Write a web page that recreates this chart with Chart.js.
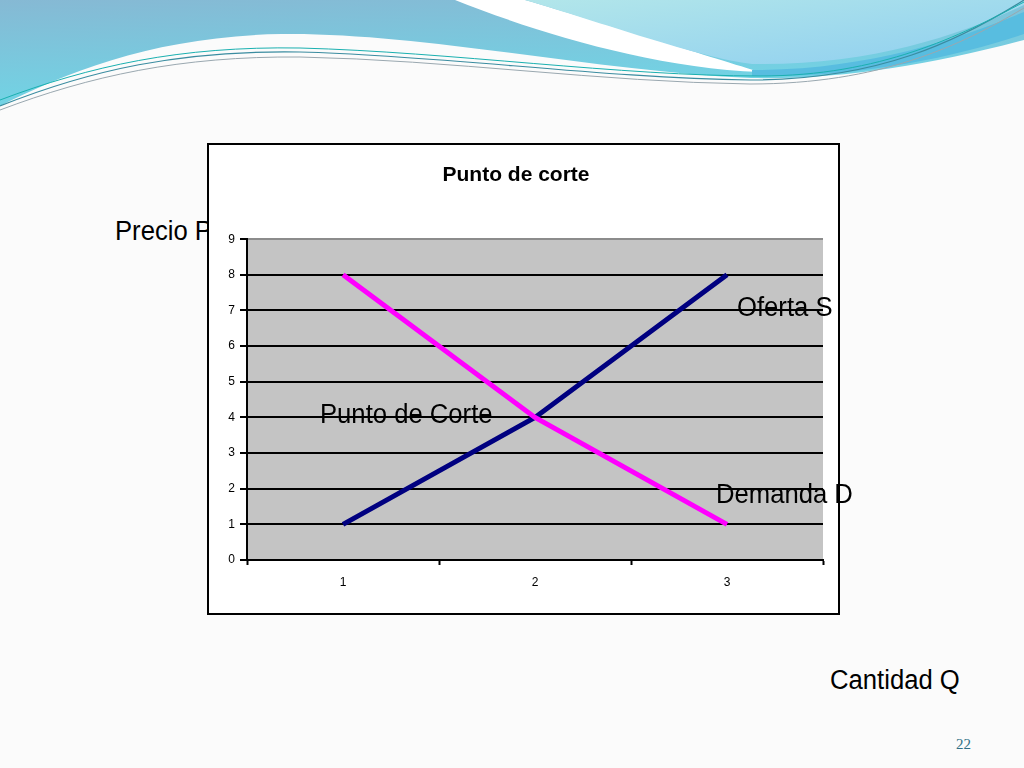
<!DOCTYPE html>
<html>
<head>
<meta charset="utf-8">
<script src="https://cdn.jsdelivr.net/npm/chart.js@4.4.0/dist/chart.umd.min.js"></script>
<style>
  html, body { margin: 0; padding: 0; }
  body {
    width: 1024px; height: 768px; overflow: hidden; position: relative;
    background: #fbfbfb;
    font-family: "Liberation Sans", Arial, sans-serif;
  }
  #waves { position: absolute; left: 0; top: 0; }
  #chartBox {
    position: absolute; left: 207px; top: 143px; width: 633px; height: 472px;
    box-sizing: border-box; border: 2px solid #000; background: #fff; z-index: 2;
  }
  #chartBox canvas { display: block; }
  .note {
    position: absolute; font-size: 27px; line-height: 27px; color: #000;
    white-space: nowrap; transform: scaleX(0.95); transform-origin: left center;
  }
  #precio { z-index: 1; }
  .over { z-index: 3; }
  #pageNum {
    position: absolute; left: 956px; top: 736px; font-family: "Liberation Serif", "DejaVu Serif", serif;
    font-size: 15px; color: #2f6f86;
  }
</style>
</head>
<body>
<svg id="waves" width="1024" height="130" viewBox="0 0 1024 130">
  <defs>
    <linearGradient id="gBlue" x1="0" y1="0" x2="0.3" y2="1">
      <stop offset="0" stop-color="#86b9d4"/>
      <stop offset="1" stop-color="#6fd6e6"/>
    </linearGradient>
    <linearGradient id="gCyan" x1="0" y1="0" x2="1" y2="1">
      <stop offset="0" stop-color="#b2e6ea"/>
      <stop offset="1" stop-color="#8fcff0"/>
    </linearGradient>
  </defs>
  <path d="M0,0 H1024 V40 C 930,65 840,80 751,78 C 600,72 420,32 281,34 C 160,36 70,70 0,106 Z" fill="url(#gBlue)"/>
  <path d="M455,0 C 530,30 650,68 760,72 C 720,60 600,22 525,0 Z" fill="#ffffff"/>
  <path d="M525,0 C 600,22 700,58 752,64 C 870,66 960,35 1024,5 V0 Z" fill="url(#gCyan)"/>
  <path d="M752,70 C 870,70 960,38 1024,12 V34 C 960,56 860,78 752,76 Z" fill="#58bde0"/>
  <path d="M0,106 C 90,70 180,50 300,52 C 450,56 600,78 750,80 C 880,80 960,40 1024,0" fill="none" stroke="#3a8ca0" stroke-width="1.2"/>
  <path d="M0,110 C 90,76 180,56 300,57 C 450,60 600,82 750,84 C 880,84 960,46 1024,8" fill="none" stroke="#9aa8b0" stroke-width="1"/>
  <path d="M0,100 C 90,66 180,46 300,48 C 450,52 620,76 760,76 C 880,76 960,36 1024,2" fill="none" stroke="#1ab0b0" stroke-width="1"/>
</svg>

<div id="precio" class="note" style="left:115px; top:218px;">Precio P</div>

<div id="chartBox"><canvas id="corteChart" width="629" height="468"></canvas></div>

<div class="note over" style="left:737px; top:294px;">Oferta S</div>
<div class="note over" style="left:320px; top:401px;">Punto de Corte</div>
<div class="note over" style="left:716px; top:481px;">Demanda D</div>
<div class="note over" style="left:830px; top:667px;">Cantidad Q</div>
<div id="pageNum">22</div>

<script>
// --- DATA ---
const categories = ['1', '2', '3'];
const ofertaS = [1, 4, 8];
const demandaD = [8, 4, 1];
const yTickLabels = [0, 1, 2, 3, 4, 5, 6, 7, 8, 9];

document.addEventListener('DOMContentLoaded', () => {
    const ctx = document.getElementById('corteChart');
    if (!ctx) return;

    // grey plot background, like the old spreadsheet chart
    const plotBackground = {
        id: 'plotBackground',
        beforeDraw(chart) {
            const { ctx, chartArea } = chart;
            ctx.save();
            ctx.fillStyle = '#c4c4c4';
            ctx.fillRect(chartArea.left, chartArea.top, chartArea.right - chartArea.left, chartArea.bottom - chartArea.top);
            ctx.restore();
        }
    };

    const yMax = yTickLabels[yTickLabels.length - 1];
    const fontFamily = '"Liberation Sans", Arial, sans-serif';

    new Chart(ctx.getContext('2d'), {
        type: 'line',
        data: {
            labels: categories,
            datasets: [
                {
                    label: 'Demanda D',
                    data: demandaD,
                    borderColor: '#ff00ff',
                    borderWidth: 5,
                    pointRadius: 0,
                    tension: 0,
                    fill: false
                },
                {
                    label: 'Oferta S',
                    data: ofertaS,
                    borderColor: '#000080',
                    borderWidth: 5,
                    pointRadius: 0,
                    tension: 0,
                    fill: false
                }
            ]
        },
        options: {
            responsive: false,
            animation: false,
            devicePixelRatio: 1,
            layout: { padding: { left: 0, right: 15, top: 0, bottom: 0 } },
            scales: {
                x: {
                    offset: true,
                    grid: {
                        offset: true,
                        drawOnChartArea: false,
                        drawTicks: true,
                        tickLength: 5,
                        tickColor: '#000',
                        tickWidth: 2
                    },
                    border: { display: true, color: '#000', width: 2 },
                    ticks: {
                        color: '#000',
                        padding: 10,
                        maxRotation: 0,
                        font: { family: fontFamily, size: 12 }
                    },
                    afterFit: (scale) => { scale.height = 53; }
                },
                y: {
                    min: yTickLabels[0],
                    max: yMax,
                    afterBuildTicks: (scale) => {
                        scale.ticks = yTickLabels.map(v => ({ value: v }));
                    },
                    grid: {
                        color: (c) => (c.tick && c.tick.value === yMax) ? '#8c8c8c' : '#000',
                        lineWidth: 2,
                        tickLength: 7,
                        tickColor: '#000',
                        tickWidth: 2
                    },
                    border: { display: true, color: '#000', width: 2 },
                    ticks: {
                        color: '#000',
                        padding: 5,
                        font: { family: fontFamily, size: 12 }
                    },
                    afterFit: (scale) => { scale.width = 38; }
                }
            },
            plugins: {
                legend: { display: false },
                tooltip: { enabled: false },
                title: {
                    display: true,
                    text: 'Punto de corte',
                    color: '#000',
                    font: { family: fontFamily, size: 21, weight: 'bold' },
                    padding: { top: 18, bottom: 51 }
                }
            }
        },
        plugins: [plotBackground]
    });
});
</script>
</body>
</html>
